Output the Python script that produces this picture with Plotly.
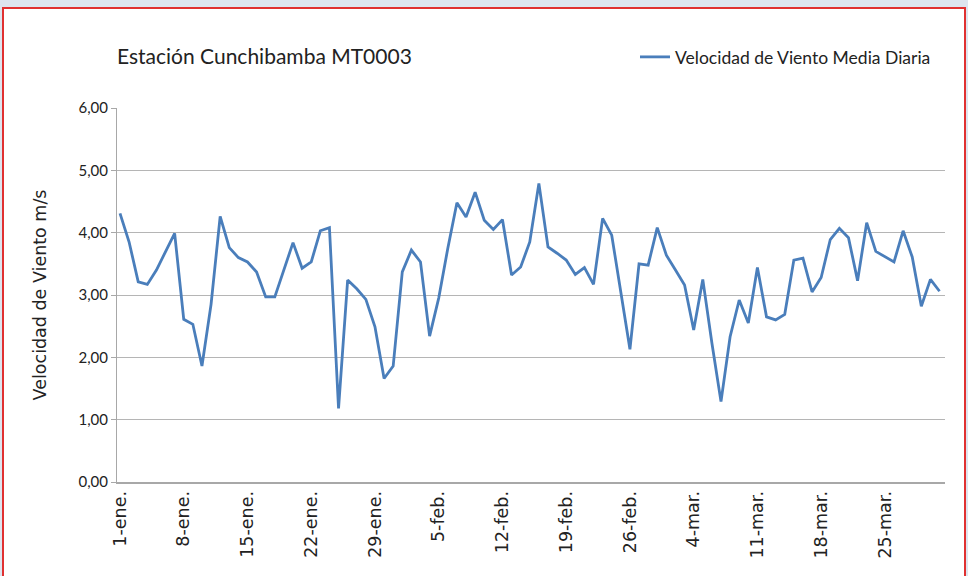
import plotly.graph_objects as go

# Velocidad de viento media diaria (m/s), 1-ene a 31-mar (91 días)
velocidad = [
    4.31, 3.85, 3.21, 3.17, 3.40, 3.69, 3.99, 2.61, 2.53, 1.86,
    2.85, 4.26, 3.76, 3.60, 3.53, 3.37, 2.97, 2.97, 3.40, 3.84,
    3.43, 3.53, 4.03, 4.08, 1.18, 3.24, 3.10, 2.93, 2.49, 1.66,
    1.86, 3.37, 3.72, 3.53, 2.34, 2.95, 3.75, 4.48, 4.25, 4.65,
    4.20, 4.05, 4.21, 3.32, 3.45, 3.85, 4.79, 3.77, 3.67, 3.56,
    3.33, 3.44, 3.17, 4.23, 3.96, 3.05, 2.13, 3.50, 3.48, 4.08,
    3.64, 3.40, 3.16, 2.44, 3.25, 2.23, 1.29, 2.33, 2.92, 2.55,
    3.44, 2.65, 2.60, 2.69, 3.56, 3.59, 3.05, 3.28, 3.89, 4.07,
    3.92, 3.23, 4.16, 3.70, 3.61, 3.53, 4.03, 3.61, 2.82, 3.25,
    3.06,
]
dias = list(range(len(velocidad)))

tick_labels = ["1-ene.", "8-ene.", "15-ene.", "22-ene.", "29-ene.", "5-feb.",
               "12-feb.", "19-feb.", "26-feb.", "4-mar.", "11-mar.", "18-mar.",
               "25-mar."]
tick_pos = [7 * k for k in range(len(tick_labels))]

y_ticks = [0, 1, 2, 3, 4, 5, 6]
y_tick_text = ["0,00", "1,00", "2,00", "3,00", "4,00", "5,00", "6,00"]

fig = go.Figure()
fig.add_trace(go.Scatter(
    x=dias, y=velocidad, mode="lines",
    name="Velocidad de Viento Media Diaria",
    line=dict(color="#4a7ebb", width=2.8),
))

W, H = 968, 576
L, R, T, B = 117, 945, 108, 482

def px(x):
    return (x - L) / (R - L)

def py(y):
    return (B - y) / (B - T)

fig.update_layout(
    width=W, height=H,
    margin=dict(l=L, r=W - R, t=T, b=H - B),
    paper_bgcolor="#dde5ef",
    plot_bgcolor="white",
    font=dict(family="Lato, sans-serif", color="#222222"),
    title=dict(text="Estación Cunchibamba MT0003", x=0, xref="paper",
               xanchor="left", y=1 - 57 / H, yref="container", yanchor="middle",
               font=dict(size=21, family="Lato, sans-serif", color="#222222")),
    showlegend=True,
    legend=dict(x=px(936), xanchor="right", y=py(57), yanchor="middle",
                font=dict(size=17.5, family="Lato, sans-serif", color="#222222"),
                bgcolor="rgba(0,0,0,0)", itemwidth=30),
    xaxis=dict(
        range=[-0.33, 90.6],
        tickmode="array", tickvals=tick_pos, ticktext=tick_labels,
        tickangle=-90, showgrid=False, zeroline=False,
        showline=True, linecolor="#a8a8a8", linewidth=2,
        ticks="", tickfont=dict(size=17.5, family="DejaVu Sans, sans-serif",
                                color="#222222"),
    ),
    yaxis=dict(
        range=[0, 6], tickmode="array", tickvals=y_ticks, ticktext=y_tick_text,
        showgrid=True, gridcolor="#b5b5b5", gridwidth=1, zeroline=False,
        showline=True, linecolor="#a8a8a8", linewidth=1,
        ticks="outside", ticklen=5, tickcolor="#a8a8a8",
        tickfont=dict(size=15, family="Lato, sans-serif", color="#222222"),
        title=dict(text="Velocidad de Viento m/s", standoff=27,
                   font=dict(size=17.5, family="DejaVu Sans, sans-serif",
                             color="#222222")),
    ),
    shapes=[dict(type="rect", xref="paper", yref="paper",
                 x0=px(3), x1=px(965), y0=py(590), y1=py(8),
                 line=dict(color="#e03131", width=2), fillcolor="white",
                 layer="below")],
)

fig.write_html("out.html",
               config={"displayModeBar": False},
               post_script="document.body.style.margin='0';"
                           "document.body.style.overflow='hidden';")
